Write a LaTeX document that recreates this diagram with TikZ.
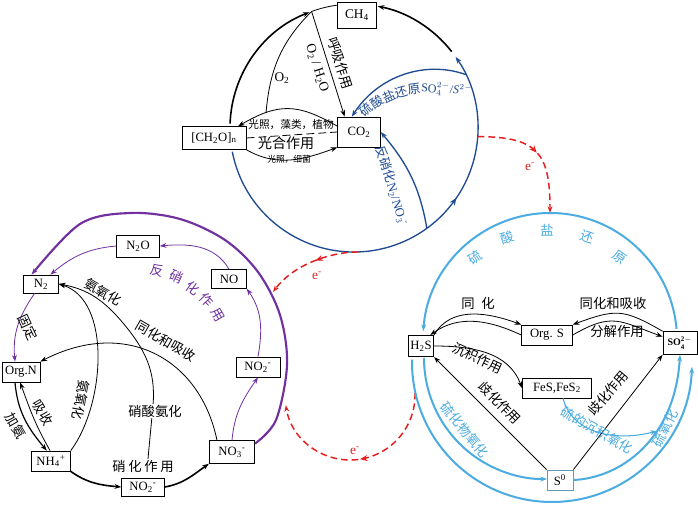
\documentclass[tikz,border=0pt]{standalone}
\usepackage{fontspec}
\setmainfont{Liberation Serif}
\newfontfamily\cjk{Noto Sans CJK SC}
\usetikzlibrary{arrows.meta,calc,decorations.markings}
\definecolor{dblue}{RGB}{30,75,145}
\definecolor{lblue}{RGB}{75,172,226}
\definecolor{purp}{RGB}{112,48,160}
\definecolor{redone}{RGB}{230,30,30}
\begin{document}
\begin{tikzpicture}[x=0.75pt,y=0.75pt,
  arr/.style={-{Stealth[length=5pt,width=3.6pt]}},
  midarrow/.style={postaction={decorate},decoration={markings,mark=at position #1 with {\arrow{Stealth[length=5.5pt,width=4.5pt]}}}},
  bx/.style={draw,line width=0.6pt,fill=white,inner sep=0pt,font=\fontsize{9.5}{10}\selectfont},
  zh/.style={font=\cjk\fontsize{10}{10}\selectfont,inner sep=0pt},
  zhs/.style={font=\cjk\fontsize{9.5}{10}\selectfont,inner sep=0pt,dblue},
  thinl/.style={line width=0.6pt},
  thickl/.style={line width=1.2pt},
  rdash/.style={redone,line width=1.1pt,dash pattern=on 5pt off 3pt},
  elab/.style={redone,font=\fontsize{10}{10}\selectfont,inner sep=0pt}
]
\fill[white] (0,0) rectangle (698,-505);
\useasboundingbox (0,0) rectangle (698,-505);

% ---------- nodes: carbon ----------
\node[bx,minimum width=29pt,minimum height=19.5pt,font=\fontsize{10}{10}\selectfont] (ch4) at (357,-15) {CH\textsubscript{4}};
\node[bx,minimum width=48pt,minimum height=17pt] (ch2o) at (214,-138) {[CH\textsubscript{2}O]\textsubscript{n}};
\node[bx,minimum width=32pt,minimum height=22.5pt] (co2) at (359,-132) {CO\textsubscript{2}};
% ---------- nodes: nitrogen ----------
\node[bx,minimum width=32pt,minimum height=16.5pt] (n2o) at (138,-246) {N\textsubscript{2}O};
\node[bx,minimum width=26pt,minimum height=14pt] (no) at (229,-279) {NO};
\node[bx,minimum width=26pt,minimum height=13.5pt] (n2) at (41,-284) {N\textsubscript{2}};
\node[bx,minimum width=28.5pt,minimum height=15pt] (orgn) at (21,-372) {Org.N};
\node[bx,minimum width=29pt,minimum height=15pt] (nh4) at (51,-461) {NH\textsubscript{4}\textsuperscript{+}};
\node[bx,minimum width=32pt,minimum height=13.5pt] (no2b) at (143,-487) {NO\textsubscript{2}\textsuperscript{-}};
\node[bx,minimum width=34pt,minimum height=17pt] (no3) at (232,-452) {NO\textsubscript{3}\textsuperscript{-}};
\node[bx,minimum width=33pt,minimum height=15pt] (no2r) at (258,-367) {NO\textsubscript{2}\textsuperscript{-}};
% ---------- nodes: sulfur ----------
\node[bx,minimum width=19pt,minimum height=16pt] (h2s) at (421,-346) {H\textsubscript{2}S};
\node[bx,minimum width=38pt,minimum height=15pt] (orgs) at (547,-335) {Org. S};
\node[bx,minimum width=25.5pt,minimum height=17pt,font=\fontsize{7.5}{8}\selectfont] (so4) at (680,-343) {$\mathbf{SO_4^{2-}}$};
\node[bx,minimum width=52pt,minimum height=15pt] (fes) at (557,-388) {FeS,FeS\textsubscript{2}};
\node[bx,draw=lblue!60!gray,minimum width=19.5pt,minimum height=15pt] (s0) at (560,-480) {S\textsuperscript{0}};

% ---------- carbon cycle ----------
\coordinate (tc) at (354,-128);
\coordinate (conv) at ($(tc)+(110:124)$);
\coordinate (o2s) at (266,-113);
\coordinate (sulfs) at ($(tc)+(25.5:124)$);
\draw[thickl,arr] (tc) ++(178:124) arc[start angle=178,end angle=111,radius=124];
\draw[thinl] (tc) ++(97.5:124) arc[start angle=97.5,end angle=110,radius=124];
\draw[thickl,arr] (tc) ++(38:124) arc[start angle=38,end angle=79,radius=124];
\draw[dblue,line width=1pt,arr,midarrow=0.66] (tc) ++(191:124) arc[start angle=191,end angle=395,radius=124];
\draw[thinl,arr] (conv) -- (co2.133);
\draw[thinl] (o2s) to[out=85,in=225] (conv);
\draw[thinl,arr] (co2.165) to[out=150,in=30,looseness=1.2] (ch2o.26);
\draw[thinl,arr] (ch2o.south east) to[out=-30,in=200] (co2.south west);
\draw[thinl,dash pattern=on 6pt off 3pt] (ch2o.east) -- (co2.west);
\draw[dblue,line width=1pt,arr] (sulfs) .. controls (425,-60) and (378,-76) .. (co2.115);
\draw[dblue,line width=1pt,arr] ($(tc)+(-54:124)$) to[out=100,in=-50] (co2.east);

\node[font=\fontsize{10}{10}\selectfont,inner sep=0pt] at (282,-78) {O\textsubscript{2}};
\node[font=\fontsize{10}{10}\selectfont,inner sep=0pt,rotate=-72] at (317,-68) {O\textsubscript{2} / H\textsubscript{2}O};
\node[zh,rotate=-72] at (340,-63) {呼吸作用};
\node[zh,font=\cjk\fontsize{8}{8}\selectfont] at (291,-125) {光照，藻类，植物};
\node[zh,font=\cjk\fontsize{10.5}{10.5}\selectfont] at (286,-143) {光合作用};
\node[zh,font=\cjk\fontsize{6.5}{6.5}\selectfont] at (289,-159) {光照，细菌};
\node[zhs,rotate=42] at (366,-110) {硫};
\node[zhs,rotate=34] at (377,-102) {酸};
\node[zhs,rotate=25] at (389,-96) {盐};
\node[zhs,rotate=16] at (401,-92) {还};
\node[zhs,rotate=8] at (414,-89) {原};
\node[dblue,inner sep=0pt,font=\fontsize{9}{9}\selectfont,rotate=-4,anchor=west] at (421,-88) {SO$_4^{2-}$/\textit{S}$^{2-}$};
\node[dblue,inner sep=0pt,font=\fontsize{9.5}{10}\selectfont,rotate=-73] at (392,-186) {{\cjk 反硝化}N\textsubscript{2}/NO\textsubscript{3}\textsuperscript{-}};

% ---------- red electron transfers ----------
\coordinate (r1s) at ($(tc)+(-4:124)$);
\coordinate (stop) at (550,-213);
\draw[rdash,arr,midarrow=0.5] (r1s) .. controls +(60,0) and +(0,60) .. (stop);
\node[elab] at (530,-167) {e\textsuperscript{-}};
\coordinate (r2s) at ($(tc)+(-88:124)$);
\coordinate (r2e) at (273,-292);
\draw[rdash,arr,midarrow=0.45] (r2s) .. controls (330,-252) and (293,-265) .. (r2e);
\node[elab] at (317,-276) {e\textsuperscript{-}};
\coordinate (r3c) at (350,-395);
\draw[rdash,arr,midarrow=0.48] (r3c) ++(2:65) arc[start angle=2,end angle=-171,radius=65];
\node[elab] at (355,-451) {e\textsuperscript{-}};

% ---------- nitrogen cycle ----------
\draw[purp,line width=1.6pt,arr] plot[smooth,tension=0.55] coordinates {(no3.20) (276,-420) (287,-365) (280,-315) (258,-272) (225,-240) (180,-219) (130,-213) (80,-224) (n2.135)};
\draw[purp,thinl,arr] (no3.north) to[out=85,in=-125] (no2r.south);
\draw[purp,thinl,arr] (no2r.north) to[out=80,in=-55] (no.south east);
\draw[purp,thinl,arr] (no.north) to[out=120,in=5] (n2o.east);
\draw[purp,thinl,arr] (n2o.west) to[out=185,in=40] (n2.45);
\draw[purp,thinl,arr] (n2.-124) to[out=235,in=95] (orgn.120);

\draw[thickl,arr] (nh4.south east) to[out=-35,in=175] (no2b.west);
\draw[thickl,arr] (no2b.east) to[out=10,in=215] (no3.south west);
\draw[line width=0.9pt,arr] (orgn.-120) to[out=-85,in=130] (nh4.112);
\draw[thinl,arr] (nh4.95) to[out=120,in=-70] (orgn.-95);
\draw[thinl,arr] (no3.142) .. controls (200,-358) and (125,-318) .. (orgn.north east);
\coordinate (dn) at (148,-459);
\draw[thinl,arr] (dn) to[out=85,in=-95] (153,-405) to[out=85,in=-50] (123,-323) to[out=130,in=-10] (n2.east);
\draw[thinl,arr] (nh4.north east) .. controls (105,-405) and (112,-300) .. (n2.east);

\node[zh,rotate=-30] at (103,-292) {氨氧化};
\node[zh,rotate=-100] at (81,-400) {氨氧化};
\node[zh,rotate=-30] at (166,-341) {同化和吸收};
\node[zh,fill=white,inner sep=1pt] at (155,-411) {硝酸氨化};
\node[zh] at (143,-466) {硝\hspace{2pt}化\hspace{2pt}作\hspace{2pt}用};
\node[zh,rotate=-60] at (43,-413) {吸收};
\node[zh,rotate=-60] at (16,-426) {加氨};
\node[zh,rotate=-65] at (28,-327) {固定};
\node[zh,purp,rotate=-15] at (157,-270) {反};
\node[zh,purp,rotate=-24] at (177,-277) {硝};
\node[zh,purp,rotate=-35] at (193,-288) {化};
\node[zh,purp,rotate=-47] at (207,-300) {作};
\node[zh,purp,rotate=-60] at (218,-315) {用};

% ---------- sulfur cycle ----------
\coordinate (sc) at (550,-340);
\coordinate (sc2) at (552,-362);
\coordinate (sc3) at (545,-358);
\coordinate (sfe) at (657,-431);
\draw[lblue,line width=1.5pt,arr] (sc) ++(5:127) arc[start angle=5,end angle=176,radius=127];
\draw[lblue,line width=1.5pt,arr] (sc2) ++(179:140) arc[start angle=179,end angle=358,radius=140];
\draw[lblue,line width=1.5pt,arr] (sc3) ++(180:121) arc[start angle=180,end angle=271,radius=121];
\draw[lblue,line width=1.5pt,arr] (s0.east) .. controls (620,-478) and (675,-440) .. (so4.south);
\draw[lblue,line width=0.8pt,arr] (fes.-60) to[out=-75,in=195] (sfe);

\draw[thinl,arr] (h2s.north east) to[out=60,in=160] (orgs.north west);
\draw[thinl,arr] (orgs.west) to[out=155,in=35] (h2s.50);
\draw[thinl,arr] (so4.north west) to[out=150,in=20,looseness=1.3] (orgs.north east);
\draw[thinl,arr] (orgs.east) to[out=30,in=160,looseness=1.3] (so4.160);
\draw[thinl,arr] (h2s.east) to[out=0,in=110] (fes.west);
\draw[thinl,arr] (s0.north west) -- (h2s.south east);
\draw[thinl,arr] (s0.north east) -- (so4.south west);

\node[zh] at (478,-303) {同\hspace{5pt}化};
\node[zh] at (613,-303) {同化和吸收};
\node[zh] at (617,-331) {分解作用};
\node[zh,rotate=-25] at (478,-358) {沉积作用};
\node[zh,rotate=-45] at (500,-403) {歧化作用};
\node[zh,rotate=50] at (608,-393) {歧化作用};
\node[zh,lblue,rotate=-50] at (465,-430) {硫化物氧化};
\node[zh,lblue,rotate=-30] at (597,-430) {硫的沉积氧化};
\node[zh,lblue,rotate=62] at (665,-428) {硫氧化};
\node[zh,lblue,rotate=35] at (475,-257) {硫};
\node[zh,lblue,rotate=18] at (507,-238) {酸};
\node[zh,lblue] at (547,-230) {盐};
\node[zh,lblue,rotate=-18] at (587,-237) {还};
\node[zh,lblue,rotate=-35] at (620,-257) {原};
\end{tikzpicture}
\end{document}
